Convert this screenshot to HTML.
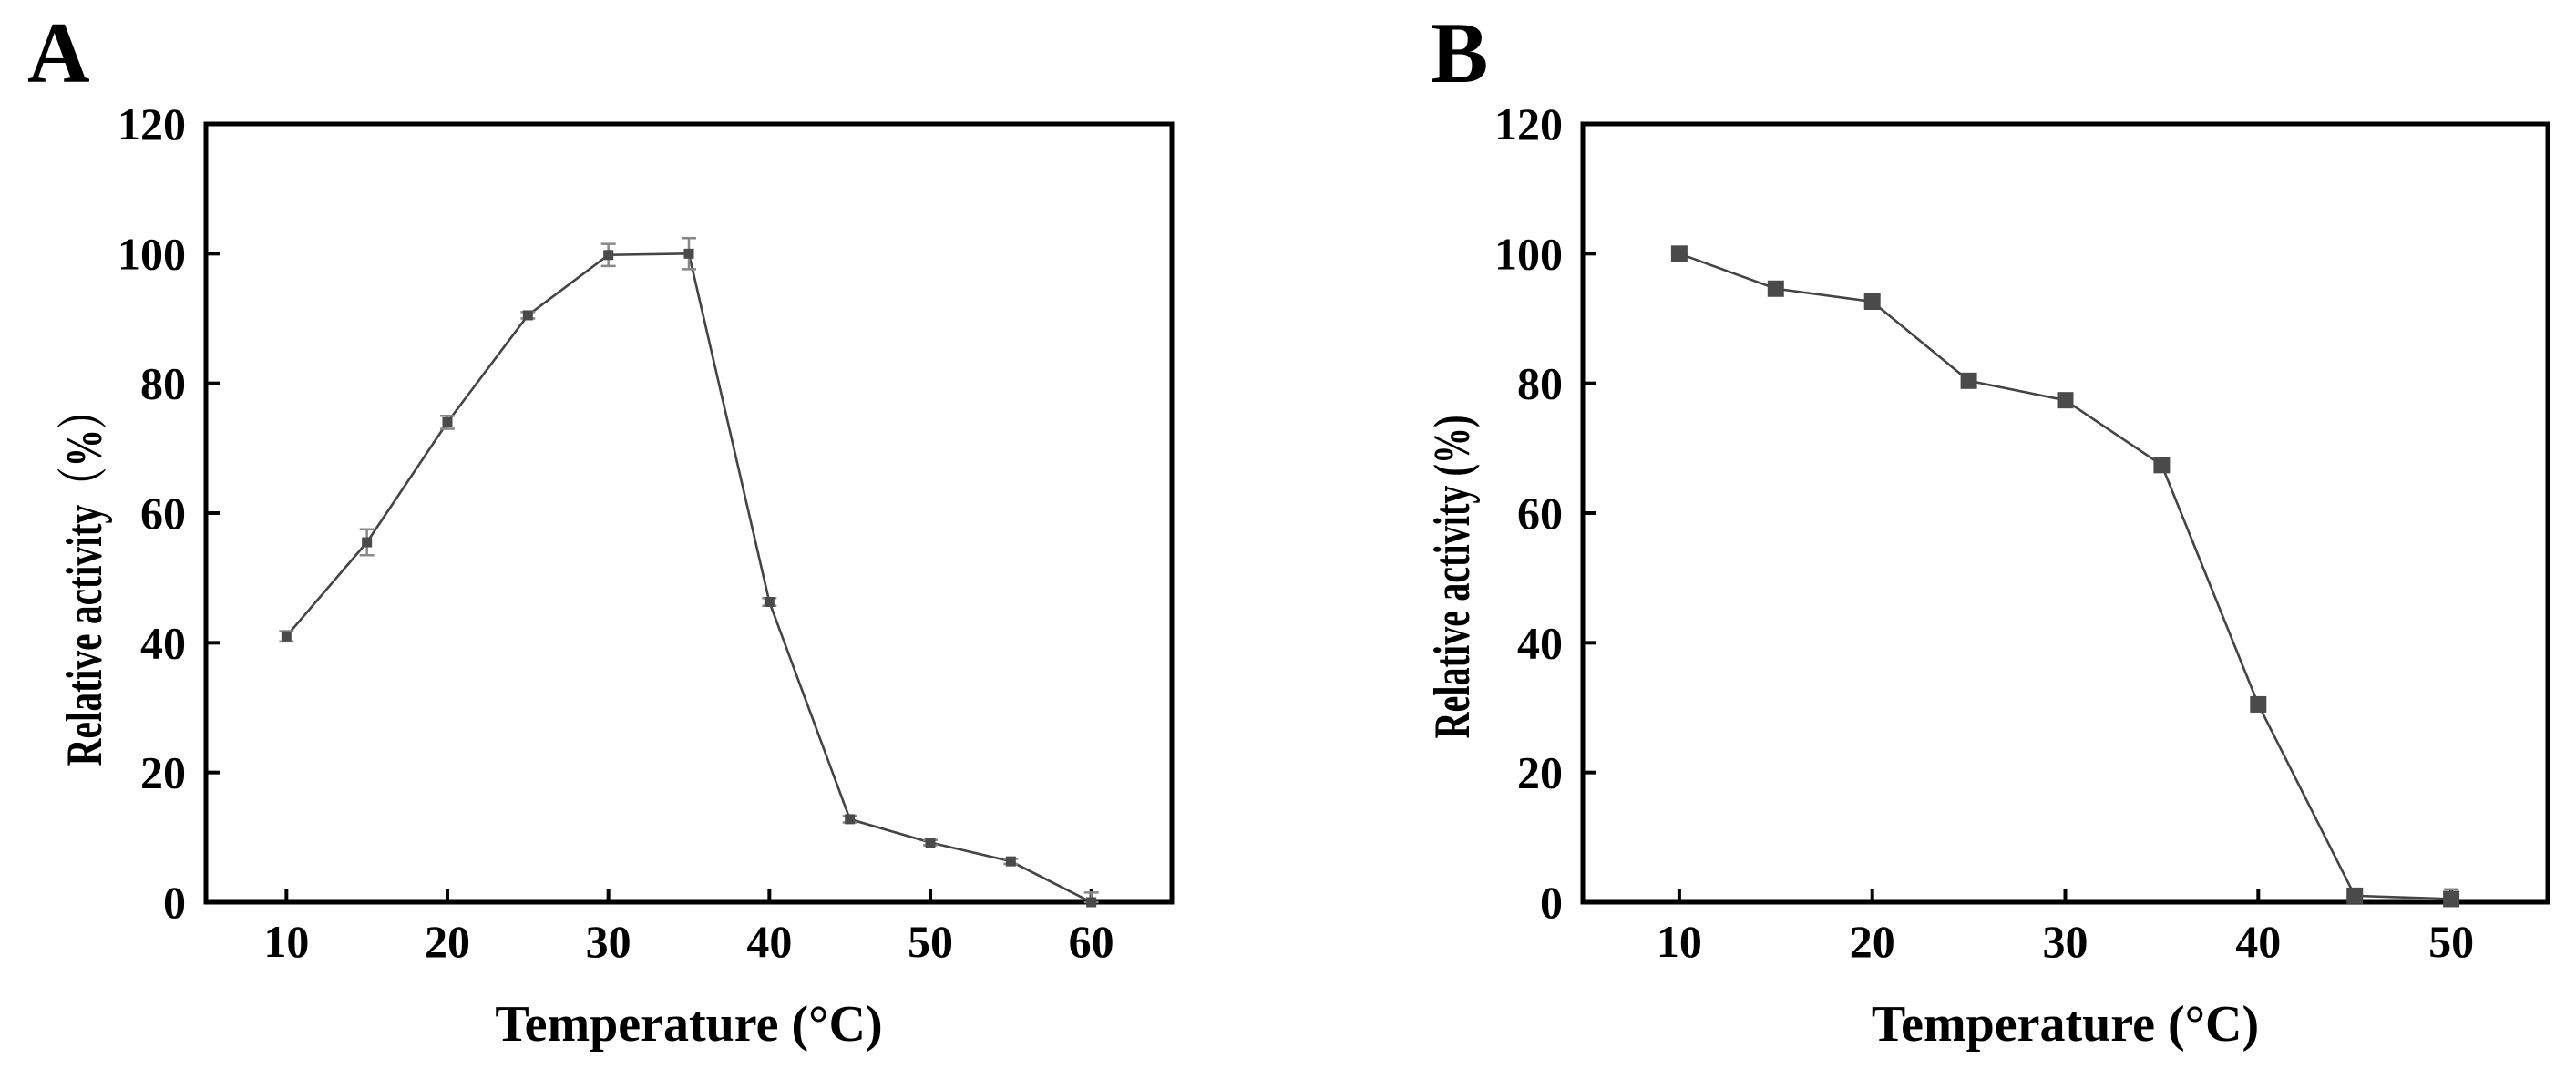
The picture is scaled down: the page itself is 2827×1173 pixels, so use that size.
<!DOCTYPE html>
<html><head><meta charset="utf-8"><style>
html,body{margin:0;padding:0;background:#fff}
svg text{font-family:"Liberation Serif","Noto Serif CJK SC",serif;font-weight:bold;fill:#000}
</style></head><body>
<svg id="fig" width="2827" height="1168" viewBox="0 0 2827 1168" xmlns="http://www.w3.org/2000/svg"></svg>
<script>
const tempsA = [10,15,20,25,30,35,40,45,50,55,60];
const activityA = [41,55.5,74,90.5,99.8,100,46.3,12.8,9.2,6.3,0];
const errorA = [0.8,2,1,0.5,1.7,2.4,0.6,0.5,0.4,0.4,1.5];
const tempsB = [10,15,20,25,30,35,40,45,50];
const activityB = [100,94.6,92.6,80.4,77.4,67.4,30.5,1,0.5];
const errorB = [0,0,0,0,0,0,0,0,1.5];
const xTicksA = [10,20,30,40,50,60];
const xTicksB = [10,20,30,40,50];
const yTicks = [0,20,40,60,80,100,120];

const NS='http://www.w3.org/2000/svg';
const svg=document.getElementById('fig');
function mk(tag,attrs,parent){const e=document.createElementNS(NS,tag);for(const k in attrs)e.setAttribute(k,attrs[k]);(parent||svg).appendChild(e);return e;}

function panel(cfg){
  const g=mk('g',{});
  
  
  const L=cfg.left,R=cfg.right,T=136,B=990;
  const xs=v=>L+(v-cfg.xmin)/(cfg.xmax-cfg.xmin)*(R-L);
  const ys=v=>B-(v/120)*(B-T);
  const lt=mk('text',{x:cfg.letterX,y:90,'font-size':95},g);lt.textContent=cfg.letter;
  
  
  yTicks.forEach(v=>{
    const y=ys(v);
    const tk=mk('line',{x1:L,x2:L+15,y1:y,y2:y,stroke:'#000','stroke-width':4},g);
    
    
    const t=mk('text',{x:L-22,y:y+17,'font-size':50,'text-anchor':'end'},g);t.textContent=v;
    
    
  });
  cfg.xticks.forEach(v=>{
    const x=xs(v);
    const tk=mk('line',{x1:x,x2:x,y1:B,y2:B-15,stroke:'#000','stroke-width':4},g);
    
    
    const t=mk('text',{x:x,y:1050,'font-size':50,'text-anchor':'middle'},g);t.textContent=v;
    
    
  });
  const fr=mk('rect',{x:L,y:T,width:R-L,height:B-T,fill:'none',stroke:'#000','stroke-width':5},g);
  
  
  const pts=cfg.x.map((v,i)=>xs(v)+','+ys(cfg.y[i])).join(' ');
  const pl=mk('polyline',{points:pts,fill:'none',stroke:'#444','stroke-width':2.6},g);
  
  
  cfg.x.forEach((v,i)=>{
    const x=xs(v),y=ys(cfg.y[i]),e=cfg.err[i];
    if(e>0){
      const eb=mk('path',{d:`M${x},${ys(cfg.y[i]+e)}V${ys(Math.max(0,cfg.y[i]-e))}M${x-8},${ys(cfg.y[i]+e)}h16M${x-8},${ys(Math.max(0,cfg.y[i]-e))}h16`,stroke:'#888','stroke-width':2.5,fill:'none'},g);
      
      
    }
    const s=cfg.ms;
    const m=mk('rect',{x:x-s/2,y:y-s/2,width:s,height:s,fill:'#4a4a4a'},g);
    
    
  });
  const xt=mk('text',{x:(L+R)/2,y:1142,'font-size':56,'text-anchor':'middle'},g);
  xt.textContent='Temperature (°C)';
  
  
  const yt=mk('text',{x:0,y:0,'font-size':56,'text-anchor':'middle',textLength:cfg.ytLen,lengthAdjust:'spacingAndGlyphs',transform:`translate(${cfg.ytX},${cfg.ytY}) rotate(-90)`},g);
  yt.textContent=cfg.ytitle;
  
  
}
panel({id:'panel-a',letter:'A',letterX:30,left:226,right:1286,xmin:5,xmax:65,xticks:xTicksA,x:tempsA,y:activityA,err:errorA,ms:11,ytitle:'Relative activity（%）',ytX:111,ytY:635,ytLen:411});
panel({id:'panel-b',letter:'B',letterX:1570,left:1737,right:2796,xmin:5,xmax:55,xticks:xTicksB,x:tempsB,y:activityB,err:errorB,ms:18,ytitle:'Relative activity (%)',ytX:1612,ytY:633,ytLen:355});
</script>
</body></html>
